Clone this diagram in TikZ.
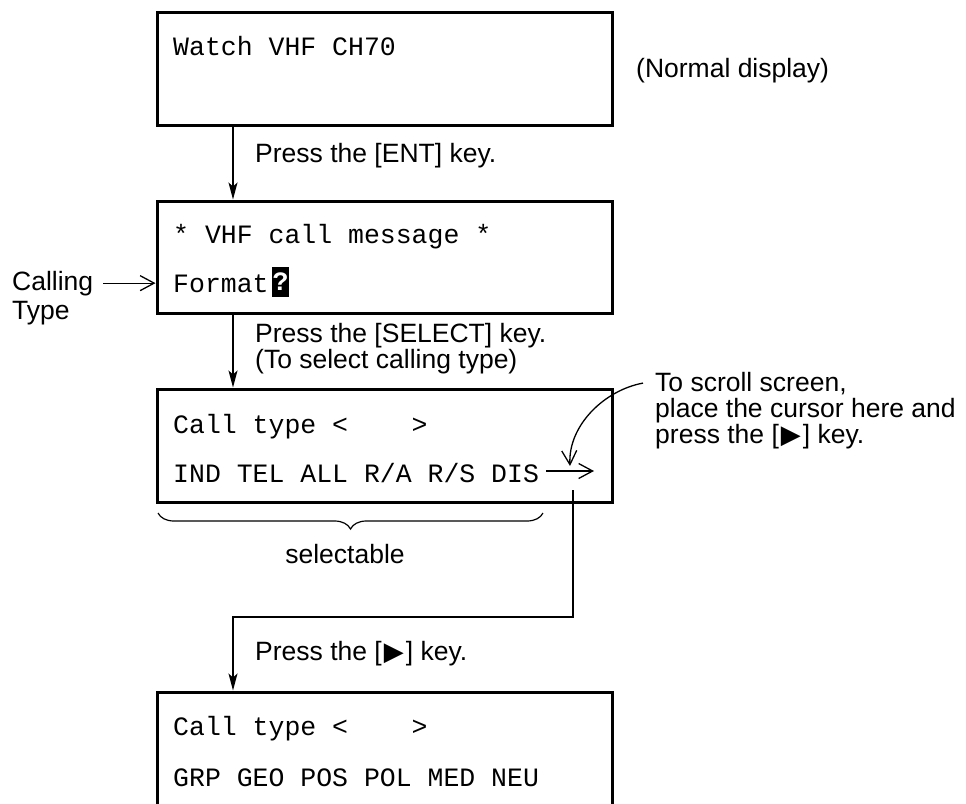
\documentclass[tikz,border=0pt]{standalone}
\usepackage{fontspec}
\setmainfont{Liberation Sans}
\newfontfamily\monof{Liberation Mono}
\newfontfamily\symf{DejaVu Sans}
\usetikzlibrary{arrows.meta,decorations.pathreplacing}
\newcommand{\tri}{\kern2pt{\symf\fontsize{26pt}{28pt}\selectfont ▶}\kern2pt}
\begin{document}
\begin{tikzpicture}[x=1pt,y=-1pt,
  screen/.style={draw, line width=3pt, minimum width=455pt, inner sep=0pt},
  lbl/.style={font=\fontsize{26.5pt}{30pt}\selectfont, inner sep=0pt, anchor=base west},
  mono/.style={font=\monof\fontsize{26.5pt}{30pt}\selectfont, inner sep=0pt, anchor=base west},
  conn/.style={line width=1.3pt},
  down/.style={conn, -{Stealth[length=17pt,width=9pt,inset=4pt]}},
  vee/.style={conn, -{Straight Barb[length=14pt,width=15pt,line width=1.3pt]}},
]
\clip (0,0) rectangle (966,803);
\fill[white] (0,0) rectangle (966,803);

% screens
\node[screen, minimum height=113pt] (b1) at (384.5,68.5) {};
\node[screen, minimum height=112pt] (b2) at (384.5,257) {};
\node[screen, minimum height=113pt] (b3) at (384.5,445.5) {};
\node[screen, minimum height=160pt] (b4) at (384.5,772) {};

% screen texts
\node[mono] (t1) at (173,55) {Watch VHF CH70};
\node[mono] (t2) at (173,243) {* VHF call message *};
\node[mono] (fmt) at (173,292) {Format};
\node[fill=black, text=white, font=\monof\bfseries\fontsize{26.5pt}{30pt}\selectfont,
      inner sep=0pt, minimum width=17pt, minimum height=30pt] (q) at (280.5,282) {?};
\node[mono] (t3) at (173,433) {Call type <\ \ \ \ >};
\node[mono] (dis) at (173,482) {IND TEL ALL R/A R/S DIS};
\node[mono] (t4) at (173,735) {Call type <\ \ \ \ >};
\node[mono] (t5) at (173,786) {GRP GEO POS POL MED NEU};

% labels
\node[lbl] (nd) at (636,77) {(Normal display)};
\node[lbl] (ent) at (255,162) {Press the [ENT] key.};
\node[lbl] (sel1) at (255,342) {Press the [SELECT] key.};
\node[lbl] (sel2) at (255,368) {(To select calling type)};
\node[lbl] (call) at (12,290) {Calling};
\node[lbl] (type) at (12,319) {Type};
\node[lbl] (s1) at (655,391) {To scroll screen,};
\node[lbl] (s2) at (655,417) {place the cursor here and};
\node[lbl] (s3) at (655,443) {press the [\tri] key.};
\node[lbl, anchor=base] (selb) at (345,563) {selectable};
\node[lbl] (pr) at (255,660) {Press the [\tri] key.};

% connectors
\coordinate (ax) at (233,0);
\draw[down] (b1.south -| ax) -- (b2.north -| ax);
\draw[down] (b2.south -| ax) -- (b3.north -| ax);
\draw[vee] ([xshift=10pt]call.east) -- (call.east -| b2.west);

\coordinate (r1) at (546,471);
\coordinate (r2) at (594,471);
\draw[vee] (r1) -- (r2);

\coordinate (tip) at (570,466);
\draw[vee] ([xshift=-12pt]s1.west) .. controls (605,390) and (568,425) .. (tip);

\coordinate (p0) at (573,490);
\coordinate (p1) at (233,617);
\draw[down] (p0) |- (p1) -- (b4.north -| p1);

% brace
\draw[line width=1.2pt, decorate, decoration={brace, mirror, amplitude=16pt}]
  (158,513) -- (543,513);
\end{tikzpicture}
\end{document}
